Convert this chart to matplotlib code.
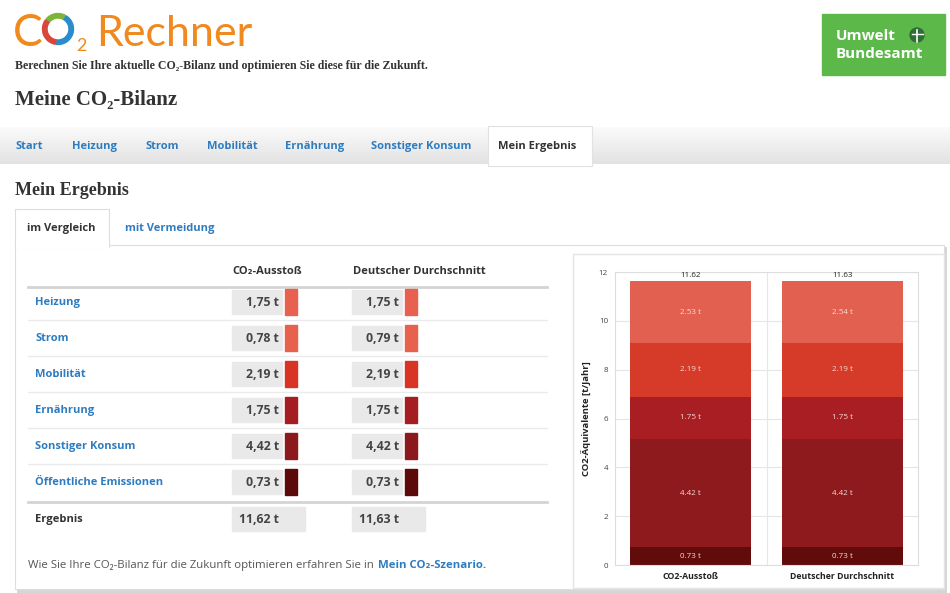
import numpy as np
import matplotlib
matplotlib.use('Agg')
import matplotlib.pyplot as plt
from matplotlib.patches import Rectangle, Wedge, Circle
from matplotlib.colors import LinearSegmentedColormap

# Tabelle: Werte pro Kategorie (t CO2 / Jahr)
kategorien = ['Heizung', 'Strom', 'Mobilität', 'Ernährung', 'Sonstiger Konsum', 'Öffentliche Emissionen']
eigene_werte = [1.75, 0.78, 2.19, 1.75, 4.42, 0.73]
durchschnitt_werte = [1.75, 0.79, 2.19, 1.75, 4.42, 0.73]
kategorie_farben = ['#e8604e', '#e8604e', '#d83426', '#a51d22', '#8c1a1d', '#5c0909']

# Diagramm
balken_namen = ['CO2-Ausstoß', 'Deutscher Durchschnitt']
stapel_farben = ['#620b0b', '#8e1a1d', '#a91e22', '#d63a28', '#e2604f']
y_ticks = [0, 2, 4, 6, 8, 10, 12]

reiter = ['Start', 'Heizung', 'Strom', 'Mobilität', 'Ernährung', 'Sonstiger Konsum']
reiter_x = [15, 72, 145, 207, 285, 371]

ORANGE = '#f0891e'
BLAU = '#2e7cc0'
LOGO = ['Lato', 'DejaVu Sans']
SANS = ['Open Sans', 'DejaVu Sans']
SERIF = ['Liberation Serif', 'DejaVu Serif']


def stapel(werte):
    # von unten nach oben: Öffentl., Sonst. Konsum, Ernährung, Mobilität, Heizung+Strom
    return [werte[5], werte[4], werte[3], werte[2], round(werte[0] + werte[1], 2)]


def komma(v):
    return f'{v:.2f} t'.replace('.', ',')


fig = plt.figure(figsize=(9.5, 5.93), dpi=100)
fig.patch.set_facecolor('white')

bg = fig.add_axes([0, 0, 1, 1])
bg.set_xlim(0, 950)
bg.set_ylim(593, 0)
bg.axis('off')

# Kopf / Logo
bg.text(13, 46, 'C', fontsize=32, color=ORANGE, family=LOGO, va='baseline')
bg.add_patch(Wedge((58, 29), 15.5, -140, -62, width=4.5, color='#7db53b'))
bg.add_patch(Wedge((58, 29), 15.5, -58, 96, width=4.5, color='#2a8ccc'))
bg.add_patch(Wedge((58, 29), 15.5, 100, 216, width=4.5, color='#d8473a'))
bg.text(76, 51, '2', fontsize=13, color=ORANGE, family=LOGO, va='baseline')
bg.text(96, 46, 'Rechner', fontsize=31, color=ORANGE, family=LOGO, va='baseline')
bg.text(15, 69, 'Berechnen Sie Ihre aktuelle CO₂-Bilanz und optimieren Sie diese für die Zukunft.',
        fontsize=8.6, weight='bold', color='#333333', family=SERIF, va='baseline')
bg.text(15, 105, 'Meine CO₂-Bilanz', fontsize=15, weight='bold', color='#333333', family=SERIF, va='baseline')

# Umweltbundesamt
bg.add_patch(Rectangle((822, 14), 123, 61, color='#5db84a'))
bg.text(836, 40, 'Umwelt', fontsize=11, weight='bold', color='white', family=SANS, va='baseline')
bg.text(836, 58, 'Bundesamt', fontsize=11, weight='bold', color='white', family=SANS, va='baseline')
bg.add_patch(Circle((917, 35), 7, color='#2f6e35'))
bg.plot([917, 917], [29.5, 41.5], color='white', lw=1.2)
bg.plot([911.5, 922.5], [34, 34], color='white', lw=1.0)

# Reiterleiste
cmap = LinearSegmentedColormap.from_list('grau', ['#fbfbfb', '#e2e2e2'])
bg.imshow(np.linspace(0, 1, 50)[:, None], extent=[0, 950, 164, 127], cmap=cmap, aspect='auto', zorder=0)
bg.set_xlim(0, 950)
bg.set_ylim(593, 0)
for name, x in zip(reiter, reiter_x):
    bg.text(x, 149, name, fontsize=8, weight='bold', color=BLAU, family=SANS, va='baseline')
bg.add_patch(Rectangle((488, 126), 104, 40, facecolor='white', edgecolor='#e2e2e2', lw=0.8, zorder=1))
bg.text(498, 149, 'Mein Ergebnis', fontsize=8, weight='bold', color='#333333', family=SANS, va='baseline', zorder=2)

bg.text(15, 195, 'Mein Ergebnis', fontsize=13, weight='bold', color='#333333', family=SERIF, va='baseline')

# Hauptfeld
bg.add_patch(Rectangle((17, 247), 930, 346, facecolor='#d6d6d6', edgecolor='none', zorder=0))
bg.add_patch(Rectangle((15, 245), 929, 344, facecolor='white', edgecolor='#dddddd', lw=0.8, zorder=1))
bg.add_patch(Rectangle((15, 209), 94, 38, facecolor='white', edgecolor='#dddddd', lw=0.8, zorder=1))
bg.add_patch(Rectangle((15.5, 240), 93, 8, facecolor='white', edgecolor='none', zorder=2))
bg.text(27, 231, 'im Vergleich', fontsize=8, weight='bold', color='#333333', family=SANS, va='baseline', zorder=3)
bg.text(125, 231, 'mit Vermeidung', fontsize=8, weight='bold', color=BLAU, family=SANS, va='baseline', zorder=3)

# Diagrammfeld
bg.add_patch(Rectangle((573, 254), 371, 334, facecolor='white', edgecolor='#e4e4e4', lw=1, zorder=2))

# Tabelle
bg.text(232, 274, 'CO₂-Ausstoß', fontsize=8, weight='bold', color='#333333', family=SANS, va='baseline', zorder=3)
bg.text(353, 274, 'Deutscher Durchschnitt', fontsize=8, weight='bold', color='#333333', family=SANS, va='baseline', zorder=3)
bg.plot([28, 547], [287, 287], color='#d4d4d4', lw=2, zorder=3)

zeilen_y = [302 + 36 * i for i in range(len(kategorien))]
for i, (name, ev, dv, farbe, y) in enumerate(zip(kategorien, eigene_werte, durchschnitt_werte,
                                                 kategorie_farben, zeilen_y)):
    bg.text(35, y + 3, name, fontsize=8, weight='bold', color=BLAU, family=SANS, va='baseline', zorder=3)
    for x0, v in [(232, ev), (352, dv)]:
        bg.add_patch(Rectangle((x0, y - 12), 50, 24, color='#e9e9e9', zorder=3))
        bg.text(x0 + 47, y + 4, komma(v), fontsize=8.8, weight='bold', color='#444444', family=SANS,
                ha='right', va='baseline', zorder=4)
        bg.add_patch(Rectangle((x0 + 53, y - 13), 12, 26, color=farbe, zorder=3))
    if i < len(kategorien) - 1:
        bg.plot([28, 547], [y + 18, y + 18], color='#ebebeb', lw=1, zorder=3)
bg.plot([28, 547], [502, 502], color='#d4d4d4', lw=2, zorder=3)

bg.text(35, 522, 'Ergebnis', fontsize=8, weight='bold', color='#333333', family=SANS, va='baseline', zorder=3)
for x0, werte in [(232, eigene_werte), (352, durchschnitt_werte)]:
    bg.add_patch(Rectangle((x0, 507), 73, 24, color='#e9e9e9', zorder=3))
    bg.text(x0 + 7, 523, komma(sum(werte)), fontsize=8.8, weight='bold', color='#444444', family=SANS,
            va='baseline', zorder=4)

fuss = bg.text(28, 568, 'Wie Sie Ihre CO₂-Bilanz für die Zukunft optimieren erfahren Sie in',
               fontsize=8.2, color='#555555', family=SANS, va='baseline', zorder=3)
fig.canvas.draw()
ende = bg.transData.inverted().transform(fuss.get_window_extent().p1)[0]
bg.text(ende + 4, 568, 'Mein CO₂-Szenario.', fontsize=8.2, weight='bold', color=BLAU, family=SANS,
        va='baseline', zorder=3)

# gestapeltes Balkendiagramm
ax = fig.add_axes([615 / 950, 1 - 565 / 593, 303 / 950, 293 / 593])
x = np.arange(len(balken_namen))
reihen = [stapel(eigene_werte), stapel(durchschnitt_werte)]
unten = np.zeros(len(balken_namen))
for k in range(5):
    hoehe = np.array([r[k] for r in reihen])
    ax.bar(x, hoehe, 0.8, bottom=unten, color=stapel_farben[k], zorder=2)
    for xi, b, h in zip(x, unten, hoehe):
        ax.text(xi, b + h / 2, f'{h:.2f} t', ha='center', va='center', fontsize=5.8,
                color='#f4dcd8', family=SANS)
    unten = unten + hoehe
for xi, total in zip(x, unten):
    ax.text(xi, total + 0.1, f'{total:.2f}', ha='center', va='bottom', fontsize=5.8, color='#222222', family=SANS)

ax.set_xlim(-0.5, 1.5)
ax.set_ylim(0, 12)
ax.set_yticks(y_ticks)
ax.set_yticklabels([str(t) for t in y_ticks], fontsize=5.8, color='#444444', family=SANS)
ax.set_xticks(x)
ax.set_xticklabels(balken_namen, fontsize=6.3, weight='bold', color='#222222', family=SANS)
ax.set_xticks([0.5], minor=True)
ax.tick_params(which='both', length=0, pad=5)
ax.grid(axis='y', color='#e6e6e6', lw=0.8, zorder=0)
ax.grid(axis='x', which='minor', color='#e6e6e6', lw=0.8, zorder=0)
for s in ax.spines.values():
    s.set_color('#dddddd')
    s.set_linewidth(0.8)
ax.set_ylabel('CO2-Äquivalente [t/Jahr]', fontsize=6.8, weight='bold', color='#222222', family=SANS, labelpad=5)

fig.savefig('out.png', dpi=100)
